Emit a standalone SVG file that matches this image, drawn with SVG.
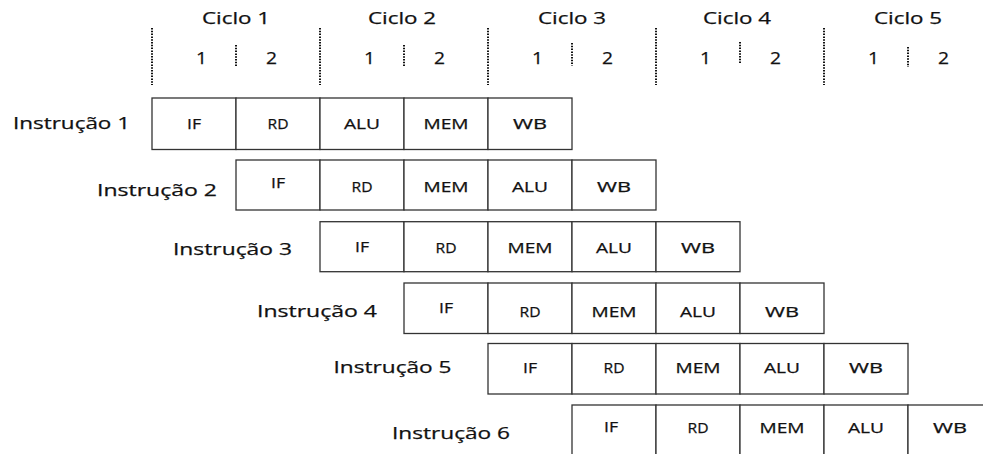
<svg xmlns="http://www.w3.org/2000/svg" width="983" height="454" viewBox="0 0 983 454">
  <style>
    text { font-family: "Open Sans", "Liberation Sans", sans-serif; fill: #111; stroke: #111; stroke-width: 0.25; }
    .hd { font-size: 16px; }
    .num { font-size: 17px; }
    .lbl { font-size: 17px; }
    .st { font-size: 14px; }
    .cell { fill: #fff; stroke: #333; stroke-width: 1.3; }
    .major { stroke: #111; stroke-width: 2; stroke-dasharray: 1.5 1.3; fill: none; }
    .half { stroke: #111; stroke-width: 2; stroke-dasharray: 1.5 1.3; fill: none; }
  </style>

  <!-- clock cycle header -->
  <g id="timeline">
    <text class="hd" x="202" y="24" textLength="68" lengthAdjust="spacingAndGlyphs">Ciclo 1</text>
    <text class="hd" x="368" y="24" textLength="68" lengthAdjust="spacingAndGlyphs">Ciclo 2</text>
    <text class="hd" x="538" y="24" textLength="68" lengthAdjust="spacingAndGlyphs">Ciclo 3</text>
    <text class="hd" x="703" y="24" textLength="68" lengthAdjust="spacingAndGlyphs">Ciclo 4</text>
    <text class="hd" x="874" y="24" textLength="68" lengthAdjust="spacingAndGlyphs">Ciclo 5</text>

    <path class="major" d="M152,28V85 M320,28V85 M488,28V85 M656,28V85 M824,28V85"/>
    <path class="half" d="M236,45V66 M404,45V66 M572,43V66 M740,42V63 M908,47V67"/>

    <g class="num">
      <text x="196" y="63.5" textLength="11" lengthAdjust="spacingAndGlyphs">1</text><text x="266" y="63.5" textLength="11" lengthAdjust="spacingAndGlyphs">2</text>
      <text x="364" y="63.5" textLength="11" lengthAdjust="spacingAndGlyphs">1</text><text x="434" y="63.5" textLength="11" lengthAdjust="spacingAndGlyphs">2</text>
      <text x="532" y="63.5" textLength="11" lengthAdjust="spacingAndGlyphs">1</text><text x="602" y="63.5" textLength="11" lengthAdjust="spacingAndGlyphs">2</text>
      <text x="700" y="63.5" textLength="11" lengthAdjust="spacingAndGlyphs">1</text><text x="770" y="63.5" textLength="11" lengthAdjust="spacingAndGlyphs">2</text>
      <text x="868" y="63.5" textLength="11" lengthAdjust="spacingAndGlyphs">1</text><text x="938" y="63.5" textLength="11" lengthAdjust="spacingAndGlyphs">2</text>
    </g>
  </g>

  <!-- instruction 1 -->
  <g id="instr1">
    <text class="lbl" x="13" y="128.5" textLength="117" lengthAdjust="spacingAndGlyphs">Instrução 1</text>
    <rect class="cell" x="152" y="98" width="84" height="51.5"/>
    <rect class="cell" x="236" y="98" width="84" height="51.5"/>
    <rect class="cell" x="320" y="98" width="84" height="51.5"/>
    <rect class="cell" x="404" y="98" width="84" height="51.5"/>
    <rect class="cell" x="488" y="98" width="84" height="51.5"/>
    <text class="st" x="187" y="128.5" textLength="14" lengthAdjust="spacingAndGlyphs">IF</text>
    <text class="st" x="267.5" y="128.5" textLength="21" lengthAdjust="spacingAndGlyphs">RD</text>
    <text class="st" x="344" y="128.5" textLength="36" lengthAdjust="spacingAndGlyphs">ALU</text>
    <text class="st" x="423.5" y="128.5" textLength="45" lengthAdjust="spacingAndGlyphs">MEM</text>
    <text class="st" x="513" y="128.5" textLength="34" lengthAdjust="spacingAndGlyphs">WB</text>
  </g>

  <!-- instruction 2 -->
  <g id="instr2">
    <text class="lbl" x="97" y="196" textLength="120" lengthAdjust="spacingAndGlyphs">Instrução 2</text>
    <rect class="cell" x="236" y="160" width="84" height="50"/>
    <rect class="cell" x="320" y="160" width="84" height="50"/>
    <rect class="cell" x="404" y="160" width="84" height="50"/>
    <rect class="cell" x="488" y="160" width="84" height="50"/>
    <rect class="cell" x="572" y="160" width="84" height="50"/>
    <text class="st" x="271" y="188" textLength="14" lengthAdjust="spacingAndGlyphs">IF</text>
    <text class="st" x="351.5" y="192" textLength="21" lengthAdjust="spacingAndGlyphs">RD</text>
    <text class="st" x="423.5" y="192" textLength="45" lengthAdjust="spacingAndGlyphs">MEM</text>
    <text class="st" x="512" y="192" textLength="36" lengthAdjust="spacingAndGlyphs">ALU</text>
    <text class="st" x="597" y="192" textLength="34" lengthAdjust="spacingAndGlyphs">WB</text>
  </g>

  <!-- instruction 3 -->
  <g id="instr3">
    <text class="lbl" x="173" y="255" textLength="119" lengthAdjust="spacingAndGlyphs">Instrução 3</text>
    <rect class="cell" x="320" y="221.7" width="84" height="50"/>
    <rect class="cell" x="404" y="221.7" width="84" height="50"/>
    <rect class="cell" x="488" y="221.7" width="84" height="50"/>
    <rect class="cell" x="572" y="221.7" width="84" height="50"/>
    <rect class="cell" x="656" y="221.7" width="84" height="50"/>
    <text class="st" x="355" y="251.5" textLength="14" lengthAdjust="spacingAndGlyphs">IF</text>
    <text class="st" x="435.5" y="253" textLength="21" lengthAdjust="spacingAndGlyphs">RD</text>
    <text class="st" x="507.5" y="253" textLength="45" lengthAdjust="spacingAndGlyphs">MEM</text>
    <text class="st" x="596" y="253" textLength="36" lengthAdjust="spacingAndGlyphs">ALU</text>
    <text class="st" x="681" y="253" textLength="34" lengthAdjust="spacingAndGlyphs">WB</text>
  </g>

  <!-- instruction 4 -->
  <g id="instr4">
    <text class="lbl" x="257" y="316.7" textLength="120" lengthAdjust="spacingAndGlyphs">Instrução 4</text>
    <rect class="cell" x="404" y="283" width="84" height="50.5"/>
    <rect class="cell" x="488" y="283" width="84" height="50.5"/>
    <rect class="cell" x="572" y="283" width="84" height="50.5"/>
    <rect class="cell" x="656" y="283" width="84" height="50.5"/>
    <rect class="cell" x="740" y="283" width="84" height="50.5"/>
    <text class="st" x="439" y="313" textLength="14" lengthAdjust="spacingAndGlyphs">IF</text>
    <text class="st" x="519.5" y="317" textLength="21" lengthAdjust="spacingAndGlyphs">RD</text>
    <text class="st" x="591.5" y="317" textLength="45" lengthAdjust="spacingAndGlyphs">MEM</text>
    <text class="st" x="680" y="317" textLength="36" lengthAdjust="spacingAndGlyphs">ALU</text>
    <text class="st" x="765" y="317" textLength="34" lengthAdjust="spacingAndGlyphs">WB</text>
  </g>

  <!-- instruction 5 -->
  <g id="instr5">
    <text class="lbl" x="333.5" y="373" textLength="118" lengthAdjust="spacingAndGlyphs">Instrução 5</text>
    <rect class="cell" x="488" y="343.5" width="84" height="50.5"/>
    <rect class="cell" x="572" y="343.5" width="84" height="50.5"/>
    <rect class="cell" x="656" y="343.5" width="84" height="50.5"/>
    <rect class="cell" x="740" y="343.5" width="84" height="50.5"/>
    <rect class="cell" x="824" y="343.5" width="84" height="50.5"/>
    <text class="st" x="523" y="373" textLength="14" lengthAdjust="spacingAndGlyphs">IF</text>
    <text class="st" x="603.5" y="373" textLength="21" lengthAdjust="spacingAndGlyphs">RD</text>
    <text class="st" x="675.5" y="373" textLength="45" lengthAdjust="spacingAndGlyphs">MEM</text>
    <text class="st" x="764" y="373" textLength="36" lengthAdjust="spacingAndGlyphs">ALU</text>
    <text class="st" x="849" y="373" textLength="34" lengthAdjust="spacingAndGlyphs">WB</text>
  </g>

  <!-- instruction 6 (runs past the right and bottom edges) -->
  <g id="instr6">
    <text class="lbl" x="392" y="439.3" textLength="118" lengthAdjust="spacingAndGlyphs">Instrução 6</text>
    <rect class="cell" x="572" y="405" width="84" height="60"/>
    <rect class="cell" x="656" y="405" width="84" height="60"/>
    <rect class="cell" x="740" y="405" width="84" height="60"/>
    <rect class="cell" x="824" y="405" width="84" height="60"/>
    <rect class="cell" x="908" y="405" width="84" height="60"/>
    <text class="st" x="604" y="431.5" textLength="14" lengthAdjust="spacingAndGlyphs">IF</text>
    <text class="st" x="687.5" y="433" textLength="21" lengthAdjust="spacingAndGlyphs">RD</text>
    <text class="st" x="759.5" y="433" textLength="45" lengthAdjust="spacingAndGlyphs">MEM</text>
    <text class="st" x="848" y="433" textLength="36" lengthAdjust="spacingAndGlyphs">ALU</text>
    <text class="st" x="933" y="433" textLength="34" lengthAdjust="spacingAndGlyphs">WB</text>
  </g>

  <!-- no connectors in this chart -->
  <g id="connectors"/>
</svg>
